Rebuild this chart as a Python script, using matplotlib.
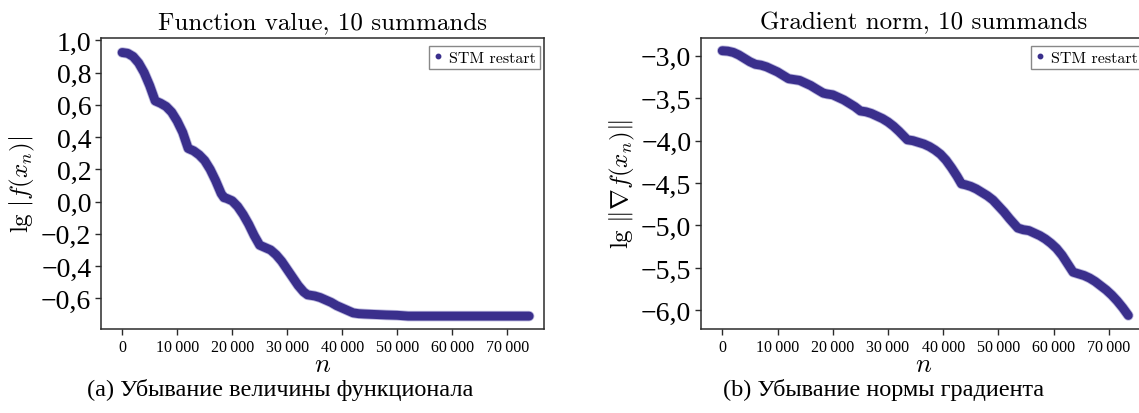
import matplotlib
matplotlib.use("Agg")
import matplotlib.pyplot as plt
from matplotlib.lines import Line2D
from matplotlib.ticker import FuncFormatter, MultipleLocator

# values (iteration n, lg of the quantity)
n_func = [0, 1000, 2000, 3000, 4000, 5000, 6000, 7000, 8000, 9000, 10000,
          11000, 12000, 13000, 14000, 15000, 16000, 17000, 18000, 18500,
          19000, 20000, 21000, 22000, 23000, 24000, 25000, 26000, 27000,
          28000, 29000, 30000, 31000, 32000, 33000, 33700, 35000, 36000,
          37000, 38000, 39000, 40000, 41000, 42000, 43000, 44000, 46000,
          48000, 50000, 52000, 56000, 62000, 68000, 74000]
lg_func = [0.925, 0.92, 0.90, 0.86, 0.80, 0.72, 0.625, 0.61, 0.59, 0.555,
           0.50, 0.43, 0.33, 0.315, 0.29, 0.255, 0.20, 0.13, 0.05, 0.025,
           0.02, 0.005, -0.03, -0.08, -0.14, -0.21, -0.27, -0.285, -0.30,
           -0.33, -0.37, -0.42, -0.47, -0.52, -0.56, -0.578, -0.585, -0.595,
           -0.61, -0.625, -0.645, -0.66, -0.675, -0.69, -0.695, -0.697,
           -0.70, -0.703, -0.705, -0.71, -0.71, -0.71, -0.71, -0.71]

n_grad = [0, 1000, 2000, 3000, 4000, 5000, 6000, 7000, 8000, 9000, 10000,
          11000, 12000, 13000, 14000, 15000, 16000, 17000, 18300, 19000,
          20000, 21000, 22000, 23000, 24000, 25000, 26000, 27000, 28000,
          29000, 30000, 31000, 32000, 33500, 34500, 35500, 36500, 37500,
          38500, 39500, 40500, 41500, 42500, 43300, 44000, 45000, 46000,
          47000, 48000, 49000, 50000, 51000, 52000, 53500, 54500, 55500,
          56500, 57500, 58500, 59500, 60500, 61500, 62500, 63500, 64500,
          65500, 66500, 67500, 68500, 69500, 70500, 71500, 72500, 73500]
lg_grad = [-2.94, -2.945, -2.96, -2.99, -3.03, -3.07, -3.10, -3.11, -3.13,
           -3.16, -3.19, -3.23, -3.27, -3.28, -3.29, -3.32, -3.35, -3.39,
           -3.44, -3.45, -3.46, -3.49, -3.52, -3.56, -3.60, -3.65, -3.66,
           -3.68, -3.71, -3.74, -3.78, -3.83, -3.89, -3.99, -4.00, -4.02,
           -4.04, -4.07, -4.11, -4.16, -4.23, -4.32, -4.42, -4.51, -4.52,
           -4.54, -4.57, -4.61, -4.65, -4.70, -4.77, -4.84, -4.92, -5.03,
           -5.05, -5.06, -5.09, -5.12, -5.16, -5.21, -5.27, -5.35, -5.45,
           -5.55, -5.57, -5.59, -5.62, -5.66, -5.71, -5.76, -5.82, -5.89,
           -5.97, -6.06]

titles = ["Function value, 10 summands", "Gradient norm, 10 summands"]
ylabels = [r"$\lg\,|f(x_n)|$", r"$\lg\,\Vert\nabla f(x_n)\Vert$"]
captions = ["(a) Убывание величины функционала",
            "(b) Убывание нормы градиента"]
legend_label = "STM restart"

COLOR = "#3a2f8c"
HALO = "#8c86c6"
SERIF = "Liberation Serif"

plt.rcParams["mathtext.fontset"] = "cm"
plt.rcParams["axes.linewidth"] = 1.1
plt.rcParams["axes.edgecolor"] = "#2b2b2b"

fig = plt.figure(figsize=(11.39, 4.14), dpi=100)
ax1 = fig.add_axes([101 / 1139, 84 / 414, 443 / 1139, 291 / 414])
ax2 = fig.add_axes([701 / 1139, 84 / 414, 445 / 1139, 291 / 414])


def y_fmt(v, pos):
    return f"{v:.1f}".replace(".", ",").replace("-", "\u2212")


def x_fmt(v, pos):
    return f"{int(v):,}".replace(",", "\u2009")


panels = [
    (ax1, n_func, lg_func, (-0.79, 1.015), 0.2, captions[0], 280),
    (ax2, n_grad, lg_grad, (-6.22, -2.79), 0.5, captions[1], 884),
]
for i, (ax, xs, ys, ylim, ystep, cap, cap_x) in enumerate(panels):
    ax.plot(xs, ys, color=HALO, lw=7.6, alpha=0.6,
            solid_capstyle="round", solid_joinstyle="round")
    ax.plot(xs, ys, color=COLOR, lw=6.4,
            solid_capstyle="round", solid_joinstyle="round")
    ax.set_xlim(-3850, 76700)
    ax.set_ylim(*ylim)
    ax.xaxis.set_major_locator(MultipleLocator(10000))
    ax.yaxis.set_major_locator(MultipleLocator(ystep))
    ax.xaxis.set_major_formatter(FuncFormatter(x_fmt))
    ax.yaxis.set_major_formatter(FuncFormatter(y_fmt))
    ax.tick_params(axis="both", direction="out", length=4, width=1,
                   color="#2b2b2b")
    ax.tick_params(axis="y", pad=3)
    for lab in ax.get_xticklabels():
        lab.set_fontfamily(SERIF)
        lab.set_fontsize(11.5)
    for lab in ax.get_yticklabels():
        lab.set_fontfamily(SERIF)
        lab.set_fontsize(20)
    ax.set_title(titles[i], fontfamily="cmr10", fontsize=18, pad=7)
    ax.set_ylabel(ylabels[i], fontsize=18, labelpad=3)
    ax.set_xlabel(r"$n$", fontsize=19, labelpad=-3)
    handle = Line2D([], [], marker="o", ls="", ms=3.2, color=COLOR)
    leg = ax.legend([handle], [legend_label], loc="upper right",
                    bbox_to_anchor=(1.0, 0.985),
                    prop={"family": "cmr10", "size": 11.5},
                    fancybox=False, framealpha=1, edgecolor="#888888",
                    handlelength=0.6, handletextpad=0.4,
                    borderpad=0.25, borderaxespad=0.25)
    leg.get_frame().set_linewidth(1.0)
    fig.text(cap_x / 1139, 1 - 390 / 414, cap, ha="center", va="center",
             fontfamily=SERIF, fontsize=17.5)

fig.savefig("out.png", dpi=100)
